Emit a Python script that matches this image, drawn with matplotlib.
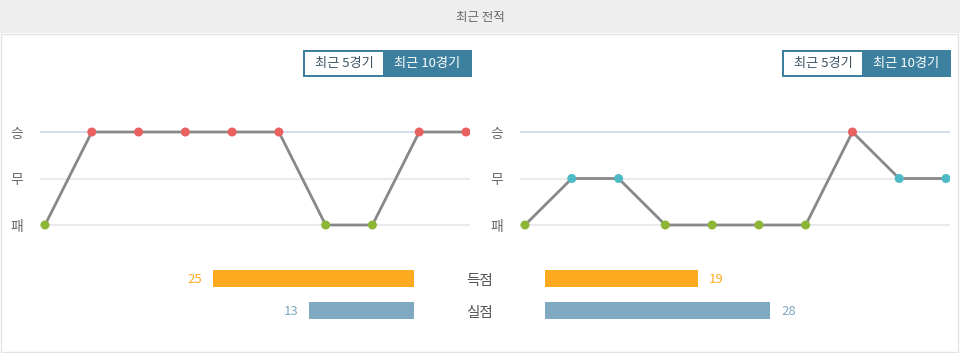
import matplotlib
matplotlib.use("Agg")
import matplotlib.pyplot as plt
from matplotlib.patches import Rectangle

plt.rcParams['font.family'] = ['Noto Sans CJK KR', 'DejaVu Sans']

W, H = 960, 353
title = "최근 전적"
result_labels = ["패", "무", "승"]  # y = 0,1,2
home_results = ["패", "승", "승", "승", "승", "승", "패", "패", "승", "승"]
away_results = ["패", "무", "무", "패", "패", "패", "패", "승", "무", "무"]
result_colors = {"승": "#e8605f", "무": "#4cb9c5", "패": "#8db536"}
btn_labels = ["최근 5경기", "최근 10경기"]
stat_labels = ["득점", "실점"]
home_stats = [25, 13]
away_stats = [19, 28]
stat_colors = ["#fdaa1f", "#7fa9c1"]

fig = plt.figure(figsize=(W / 100, H / 100), dpi=100)
fig.patch.set_facecolor("white")

def fr(x, y, w, h):
    return [x / W, 1 - (y + h) / H, w / W, h / H]

# header band
fig.patches.append(Rectangle((0, 1 - 33 / H), 1, 33 / H, transform=fig.transFigure,
                             facecolor="#eeeeee", edgecolor="none", zorder=-3))
fig.text(0.5, 1 - 17 / H, title, ha="center", va="center", fontsize=9, color="#666666",
         fontweight="medium")
# panel border
fig.patches.append(Rectangle((1 / W, 1 / H), 957 / W, (352 - 34) / H, transform=fig.transFigure,
                             facecolor="white", edgecolor="#e3e3e3", lw=1, zorder=-3))

def buttons(x0):
    y0, h = 50, 27
    w1, w2 = 80, 89
    fig.patches.append(Rectangle(fr(x0, y0, w1 + w2, h)[:2], (w1 + w2) / W, h / H,
                                 transform=fig.transFigure, facecolor="#3d7f9f",
                                 edgecolor="none", zorder=1))
    fig.patches.append(Rectangle(fr(x0 + 2, y0 + 2, w1 - 2, h - 4)[:2], (w1 - 2) / W, (h - 4) / H,
                                 transform=fig.transFigure, facecolor="white",
                                 edgecolor="none", zorder=2))
    fig.text((x0 + 1 + w1 / 2) / W, 1 - (y0 + h / 2) / H, btn_labels[0], ha="center",
             va="center", fontsize=9.5, color="#3d5566", zorder=3)
    fig.text((x0 + w1 + w2 / 2) / W, 1 - (y0 + h / 2) / H, btn_labels[1], ha="center",
             va="center", fontsize=9.5, color="white", zorder=3, fontweight="medium")

buttons(303)
buttons(782)

def line_chart(x0, results):
    ax = fig.add_axes(fr(x0, 115, 430, 125))
    ppu = 421 / 9
    ax.set_xlim(-5 / ppu, 9 + 4 / ppu)
    ppy = 93 / 2
    ax.set_ylim(-15 / ppy, 2 + 17 / ppy)
    for v in range(3):
        ax.axhline(v, color="#ccd6eb" if v == 2 else "#e6e6e6", lw=1.2, zorder=1)
    xs = list(range(len(results)))
    ys = [result_labels.index(r) for r in results]
    ax.plot(xs, ys, color="#888888", lw=2, zorder=2)
    ax.scatter(xs, ys, s=42, c=[result_colors[r] for r in results], zorder=3, linewidths=0)
    ax.set_yticks(range(3))
    ax.set_yticklabels(result_labels, fontsize=10, color="#666666")
    ax.tick_params(axis="y", length=0, pad=12)
    ax.set_xticks([])
    for s in ax.spines.values():
        s.set_visible(False)
    ax.patch.set_alpha(0)

line_chart(40, home_results)
line_chart(520, away_results)

ppu_bar = 201 / 25
span = 30

def bar_chart(x_edge, vals, left):
    w = span * ppu_bar
    if left:
        ax = fig.add_axes(fr(x_edge - w, 262, w, 65))
        ax.set_xlim(span, 0)
    else:
        ax = fig.add_axes(fr(x_edge, 262, w, 65))
        ax.set_xlim(0, span)
    ax.set_ylim(327 - 262, 0)
    ys = [278.5 - 262, 310.5 - 262]
    ax.barh(ys, vals, height=17, color=stat_colors, zorder=2)
    for y, v, c in zip(ys, vals, stat_colors):
        if left:
            ax.text(v + 1.4, y + 1, str(v), ha="right", va="center", fontsize=9.5, color=c)
        else:
            ax.text(v + 1.4, y + 1, str(v), ha="left", va="center", fontsize=9.5, color=c)
    ax.axis("off")
    return ys

bar_chart(414, home_stats, True)
bar_chart(545, away_stats, False)
for lbl, y in zip(stat_labels, [280.5, 312.5]):
    fig.text(480 / W, 1 - y / H, lbl, ha="center", va="center", fontsize=10.5, color="#555555")

fig.savefig("out.png", dpi=100, facecolor="white")
